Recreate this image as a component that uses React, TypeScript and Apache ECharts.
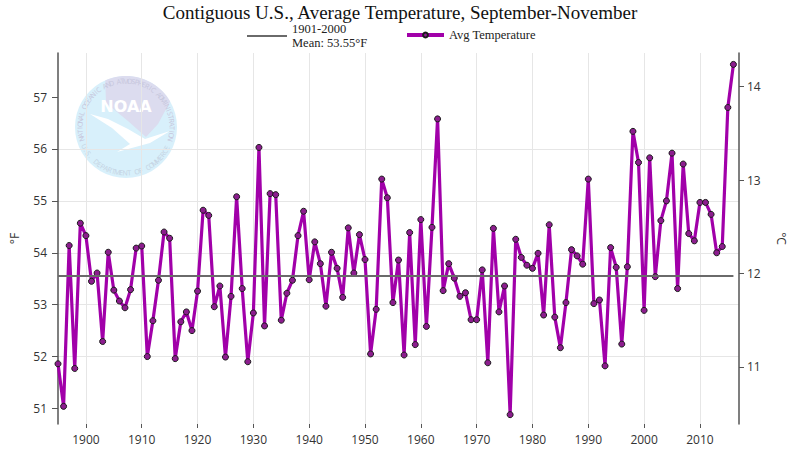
import React, { useEffect, useRef } from 'react';
import * as echarts from 'echarts';

const TITLE = 'Contiguous U.S., Average Temperature, September-November';
const START_YEAR = 1895;
const temps: number[] = [
  51.86, 51.04, 54.14, 51.77, 54.57, 54.33, 53.45, 53.61, 52.29, 54.01,
  53.28, 53.07, 52.94, 53.29, 54.09, 54.13, 52.0, 52.69, 53.47, 54.4,
  54.28, 51.96, 52.67, 52.86, 52.5, 53.26, 54.82, 54.72, 52.96, 53.36,
  51.99, 53.16, 55.08, 53.31, 51.9, 52.84, 56.03, 52.59, 55.14, 55.12,
  52.7, 53.22, 53.47, 54.33, 54.8, 53.48, 54.21, 53.79, 52.97, 54.01,
  53.7, 53.14, 54.48, 53.61, 54.35, 53.87, 52.05, 52.91, 55.42, 55.06,
  53.04, 53.86, 52.03, 54.39, 52.23, 54.64, 52.58, 54.49, 56.58, 53.27,
  53.79, 53.51, 53.16, 53.23, 52.71, 52.71, 53.67, 51.88, 54.47, 52.86,
  53.36, 50.88, 54.26, 53.91, 53.76, 53.7, 53.99, 52.8, 54.54, 52.76,
  52.17, 53.04, 54.06, 53.94, 53.78, 55.42, 53.02, 53.09, 51.82, 54.1,
  53.72, 52.24, 53.73, 56.34, 55.74, 52.89, 55.83, 53.54, 54.62, 55.0,
  55.92, 53.31, 55.71, 54.37, 54.23, 54.97, 54.97, 54.74, 54.0, 54.12,
  56.8, 57.63,
];
const years: number[] = temps.map((_, i) => START_YEAR + i);
const MEAN_F = 53.55;
const MEAN_NAME = '1901-2000\nMean: 53.55°F';
const SERIES_NAME = 'Avg Temperature';
const xTicks = [1900, 1910, 1920, 1930, 1940, 1950, 1960, 1970, 1980, 1990, 2000, 2010];
const fTicks = [51, 52, 53, 54, 55, 56, 57];
const cTicks = [11, 12, 13, 14];
const F_MIN = 50.7;
const F_MAX = 57.85;
const X_MAX = 2017;
const toC = (f: number) => ((f - 32) * 5) / 9;

const LOGO_TOP = 'NATIONAL OCEANIC AND ATMOSPHERIC ADMINISTRATION';
const LOGO_BOTTOM = 'U.S. DEPARTMENT OF COMMERCE';

function buildLogo(): any[] {
  const cx = 126, cy = 127, R = 51;
  const els: any[] = [];
  els.push({ type: 'circle', shape: { cx, cy, r: R }, style: { fill: '#d8f0fb' }, z: -10, silent: true });
  const pts: number[][] = [];
  for (let a = 114; a >= 28; a -= 4) {
    const t = (a * Math.PI) / 180;
    pts.push([cx + R * Math.cos(t), cy - R * Math.sin(t)]);
  }
  pts.push([158, 124], [146, 137], [128, 121], [106, 103]);
  els.push({ type: 'polygon', shape: { points: pts }, style: { fill: '#dcdcef' }, z: -9, silent: true });
  els.push({
    type: 'polygon',
    shape: { points: [[90, 114], [108, 119], [128, 129], [145, 139], [170, 131], [150, 143], [117, 152], [130, 144], [112, 128]] },
    style: { fill: '#ffffff' }, z: -8, silent: true,
  });
  els.push({
    type: 'text', x: cx, y: 106,
    style: { text: 'NOAA', fill: '#ffffff', font: 'bold 16px "DejaVu Sans"', align: 'center', verticalAlign: 'middle' },
    z: -7, silent: true,
  });
  const rt = 46;
  const n1 = LOGO_TOP.length;
  for (let i = 0; i < n1; i++) {
    const a = 195 - (210 * i) / (n1 - 1);
    const t = (a * Math.PI) / 180;
    els.push({
      type: 'text', x: cx + rt * Math.cos(t), y: cy - rt * Math.sin(t), rotation: ((a - 90) * Math.PI) / 180,
      style: { text: LOGO_TOP[i], fill: '#c6c6dc', font: '7px "Open Sans"', align: 'center', verticalAlign: 'middle' },
      z: -6, silent: true,
    });
  }
  const n2 = LOGO_BOTTOM.length;
  for (let i = 0; i < n2; i++) {
    const a = 205 + (128 * i) / (n2 - 1);
    const t = (a * Math.PI) / 180;
    els.push({
      type: 'text', x: cx + rt * Math.cos(t), y: cy - rt * Math.sin(t), rotation: ((a - 270) * Math.PI) / 180,
      style: { text: LOGO_BOTTOM[i], fill: '#c4d2e2', font: '7px "Open Sans"', align: 'center', verticalAlign: 'middle' },
      z: -6, silent: true,
    });
  }
  return els;
}

export default function App() {
  const ref = useRef<HTMLDivElement>(null);
  useEffect(() => {
    if (!ref.current) return;
    const chart = echarts.init(ref.current, null, { renderer: 'svg' });
    const tickFont = { fontFamily: '"Open Sans", sans-serif', fontSize: 12, color: '#333' };
    const legendText = { fontFamily: '"Liberation Serif", serif', fontSize: 12.5, color: '#222', lineHeight: 14 };
    chart.setOption({
      animation: false,
      backgroundColor: '#ffffff',
      title: {
        text: TITLE, left: 'center', top: -2,
        textStyle: { fontFamily: '"Liberation Serif", serif', fontSize: 19, fontWeight: 'normal', color: '#111' },
      },
      legend: [
        {
          data: [{ name: MEAN_NAME, icon: 'rect' }], left: 242, top: 17, itemWidth: 40, itemHeight: 2,
          itemStyle: { color: '#6a6a6a' },
          textStyle: legendText, selectedMode: false,
        },
        {
          data: [{ name: SERIES_NAME }], left: 400, top: 23, itemWidth: 37, itemHeight: 6,
          lineStyle: { width: 4 },
          textStyle: legendText, selectedMode: false,
        },
      ],
      graphic: buildLogo(),
      grid: { left: 58, right: 61, top: 53, bottom: 26, containLabel: false, outerBoundsMode: 'none' },
      xAxis: {
        type: 'value', min: START_YEAR, max: X_MAX,
        axisLine: { show: false },
        axisTick: { show: true, customValues: xTicks, length: 4, lineStyle: { color: '#555' } },
        axisLabel: { customValues: xTicks, margin: 9, formatter: (v: number) => String(v), ...tickFont },
        splitLine: { show: true, lineStyle: { color: '#e6e6e6', width: 1 } },
      },
      yAxis: [
        {
          type: 'value', min: F_MIN, max: F_MAX, position: 'left',
          name: '°F', nameLocation: 'middle', nameGap: 38,
          nameTextStyle: { fontFamily: '"Open Sans", sans-serif', fontSize: 12, color: '#333' },
          axisLine: { show: true, lineStyle: { color: '#555', width: 1.5 } },
          axisTick: { show: true, customValues: fTicks, length: 6, lineStyle: { color: '#555' } },
          axisLabel: { customValues: fTicks, margin: 11, ...tickFont },
          splitLine: { show: true, showMinLine: false, showMaxLine: false, lineStyle: { color: '#e6e6e6', width: 1 } },
        },
        {
          type: 'value', min: toC(F_MIN), max: toC(F_MAX), position: 'right',
          name: '°C', nameLocation: 'middle', nameGap: 36, nameRotate: -90,
          nameTextStyle: { fontFamily: '"Open Sans", sans-serif', fontSize: 12, color: '#333' },
          axisLine: { show: true, lineStyle: { color: '#555', width: 1.5 } },
          axisTick: { show: true, customValues: cTicks, length: 5, lineStyle: { color: '#555' } },
          axisLabel: { customValues: cTicks, margin: 8, ...tickFont },
          splitLine: { show: false },
        },
      ],
      series: [
        {
          name: SERIES_NAME, type: 'line', yAxisIndex: 0,
          data: years.map((y, i) => [y, temps[i]]),
          symbol: 'circle', symbolSize: 6,
          lineStyle: { color: '#a100a9', width: 3.2 },
          itemStyle: { color: '#8c1d8e', borderColor: '#1a1a1a', borderWidth: 1 },
          z: 3,
        },
        {
          name: MEAN_NAME, type: 'line', yAxisIndex: 0,
          data: [[years[0], MEAN_F], [years[years.length - 1], MEAN_F]],
          symbol: 'none',
          lineStyle: { color: '#6a6a6a', width: 2 },
          itemStyle: { color: '#6a6a6a' },
          z: 4,
        },
      ],
    });
    return () => chart.dispose();
  }, []);
  return <div ref={ref} style={{ width: 800, height: 450, position: 'absolute', left: 0, top: 0 }} />;
}
